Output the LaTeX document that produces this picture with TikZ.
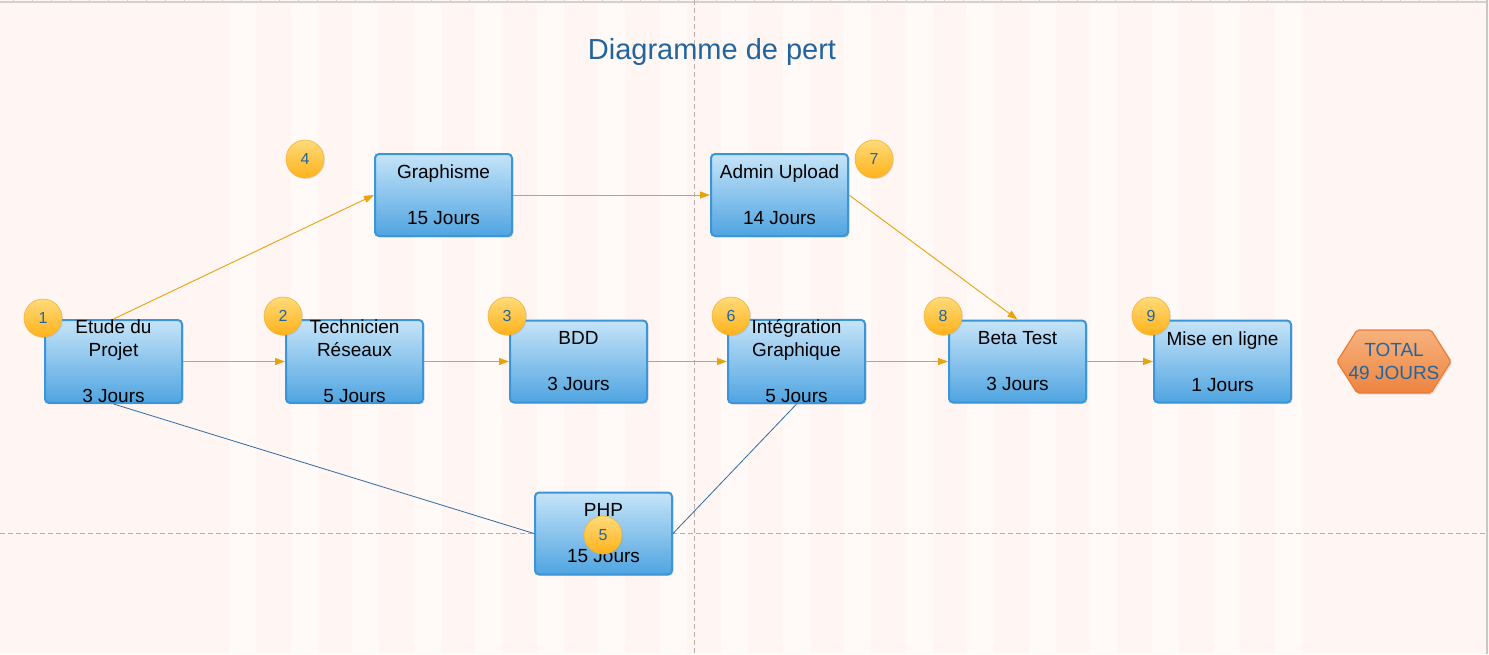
\documentclass[tikz,border=0pt]{standalone}
\usepackage{fontspec}
\setmainfont{Liberation Sans}
\usetikzlibrary{arrows.meta,shadows}
\definecolor{bgpink}{HTML}{FFF5F2}
\definecolor{bglight}{HTML}{FFF9F7}
\definecolor{titleblue}{HTML}{22659E}
\definecolor{boxline}{HTML}{3A95D9}
\definecolor{boxtop}{HTML}{C6E4F8}
\definecolor{boxmid}{HTML}{7DBEEC}
\definecolor{boxbot}{HTML}{4FA4E1}
\definecolor{balltop}{HTML}{FFDB7A}
\definecolor{ballbot}{HTML}{FFB21A}
\definecolor{ballline}{HTML}{F2B43A}
\definecolor{hextop}{HTML}{F7B27E}
\definecolor{hexbot}{HTML}{EE8440}
\definecolor{hexline}{HTML}{EA7D35}
\definecolor{linkorange}{HTML}{E8A20C}
\definecolor{linkblue}{HTML}{2F6BA5}
\definecolor{guide}{HTML}{B8ACAC}
\begin{document}
\begin{tikzpicture}[x=1pt,y=-1pt,
  task/.style={draw=boxline, line width=2pt, rounded corners=4pt, top color=boxtop, middle color=boxmid, bottom color=boxbot,
    minimum width=137pt, minimum height=82pt, inner sep=0pt, align=center, font=\fontsize{19}{23}\selectfont,
    drop shadow={opacity=0.2, shadow xshift=1.5pt, shadow yshift=-1.5pt}},
  num/.style={circle, draw=ballline, line width=0.6pt, top color=balltop, bottom color=ballbot, minimum size=38pt, inner sep=0pt,
    text=titleblue, font=\fontsize{16}{16}\selectfont, drop shadow={opacity=0.2, shadow xshift=1pt, shadow yshift=-1pt}},
  link/.style={draw=linkorange, line width=0.9pt, -{Triangle[length=10pt,width=7pt]}},
  plain/.style={draw=linkblue, line width=0.8pt}]
\useasboundingbox (0,0) rectangle (1489,654);
% background
\fill[bgpink] (0,0) rectangle (1489,654);
\foreach \i in {0,...,17} \fill[bglight] (229+61.5*\i,4) rectangle ++(27,650);
\draw[black!18, line width=1.5pt] (0,2) -- (1487,2);
\foreach \k in {0,...,77} \draw[black!18, line width=0.8pt] (13+19*\k,0) -- ++(0,2);
\draw[black!22, line width=2pt] (1487,0) -- (1487,654);
\draw[guide, line width=0.7pt, dash pattern=on 5pt off 3pt] (694,0) -- (694,654);
\draw[guide, line width=0.7pt, dash pattern=on 5pt off 3pt] (0,533) -- (1487,533);
\node[text=titleblue, font=\fontsize{29}{29}\selectfont] (title) at (712,52) {Diagramme de pert};

% tasks
\node[task] (etude) at (113.5,361.5) {Etude du\\Projet\\[23pt]3 Jours};
\node[task] (graph) at (443.5,195) {Graphisme\\[23pt]15 Jours};
\node[task] (admin) at (779.5,195) {Admin Upload\\[23pt]14 Jours};
\node[task] (tech) at (354.5,361.5) {Technicien\\Réseaux\\[23pt]5 Jours};
\node[task] (bdd) at (578.5,361.5) {BDD\\[23pt]3 Jours};
\node[task] (integ) at (796.5,361.5) {Intégration\\Graphique\\[23pt]5 Jours};
\node[task] (beta) at (1017.5,361.5) {Beta Test\\[23pt]3 Jours};
\node[task] (mise) at (1222.5,361.5) {Mise en ligne\\[23pt]1 Jours};
\node[task] (php) at (603.5,533.5) {PHP\\[23pt]15 Jours};

% total
\path[draw=hexline, line width=1.2pt, rounded corners=2pt, top color=hextop, bottom color=hexbot,
  drop shadow={opacity=0.2, shadow xshift=1.5pt, shadow yshift=-1.5pt}]
  (1337,361.5) -- (1357,330) -- (1431,330) -- (1451,361.5) -- (1431,393) -- (1357,393) -- cycle;
\node[align=center, text=titleblue, font=\fontsize{19}{23}\selectfont, inner sep=0pt] (total) at (1394,361.5) {TOTAL\\49 JOURS};

% links
\draw[link] (etude.north) -- (graph.west);
\draw[link] (etude.east) -- (tech.west);
\draw[link] (graph.east) -- (admin.west);
\draw[link] (tech.east) -- (bdd.west);
\draw[link] (bdd.east) -- (integ.west);
\draw[link] (admin.east) -- (beta.north);
\draw[link] (integ.east) -- (beta.west);
\draw[link] (beta.east) -- (mise.west);
\draw[plain] (etude.south) -- (php.west);
\draw[plain] (php.east) -- (integ.south);

% numbers
\node[num] (n1) at (43,318) {1};
\node[num] (n2) at (283,316) {2};
\node[num] (n3) at (507,316) {3};
\node[num] (n4) at (305,159) {4};
\node[num] (n5) at (603,535) {5};
\node[num] (n6) at (731,316) {6};
\node[num] (n7) at (874,159) {7};
\node[num] (n8) at (943,316) {8};
\node[num] (n9) at (1151,316) {9};
\end{tikzpicture}
\end{document}
